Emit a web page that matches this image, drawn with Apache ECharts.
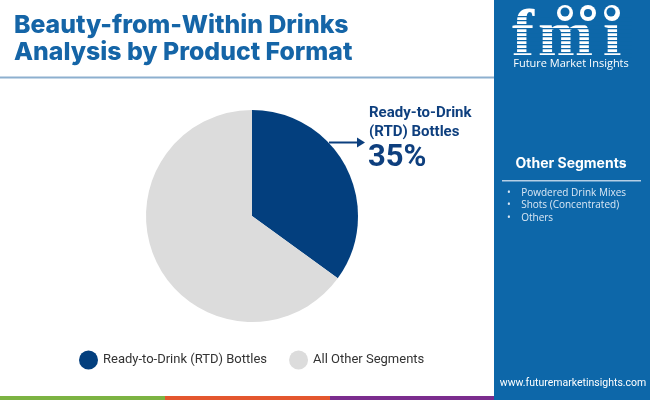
<!DOCTYPE html>
<html lang="en">
<head>
<meta charset="UTF-8">
<title>Beauty-from-Within Drinks Analysis by Product Format</title>
<script src="https://cdn.jsdelivr.net/npm/echarts@6/dist/echarts.min.js"></script>
<style>
  html, body { margin: 0; padding: 0; background: #fff; }
  #box { width: 650px; height: 400px; }
</style>
</head>
<body>
<div id="box"></div>
<script>
    // data
    var segments = ['Ready-to-Drink (RTD) Bottles', 'All Other Segments'];
    var shares = [35, 65];
    var colors = ['#033f7e', '#dcdcdc'];
    var otherSegments = ['Powdered Drink Mixes', 'Shots (Concentrated)', 'Others'];
    var titleLines = ['Beauty-from-Within Drinks', 'Analysis by Product Format'];

    var panel = '#0d67a9';
    var myChart = echarts.init(document.getElementById('box'), null, {renderer: 'canvas'});

    var pieData = segments.map(function (name, i) {
        return {name: name, value: shares[i], itemStyle: {color: colors[i]}};
    });

    // logo stripes over the fmi letters
    var stripes = [];
    for (var y = 16; y < 58; y += 4) {
        stripes.push({type: 'rect', shape: {x: 510, y: y, width: 122, height: 1.3},
            style: {fill: panel}, z: 20});
    }

    var bullets = otherSegments.map(function (s, i) {
        return {
            type: 'text', z: 20,
            style: {
                x: 507, y: 193 + i * 12.5, text: '\u2022    ' + s,
                fill: '#dbe8f5', font: '10px "Open Sans"', verticalAlign: 'middle'
            }
        };
    });

    var logoFont = 'bold 66px "Liberation Serif"';

    var option = {
        backgroundColor: '#ffffff',
        animation: false,
        title: [{
            text: titleLines.join('\n'),
            left: 9, top: 7,
            textStyle: {
                color: '#1565a7', fontSize: 24.8, fontWeight: 800,
                fontFamily: 'Inter', lineHeight: 27
            }
        }],
        legend: {
            data: segments,
            top: 345.5, left: 74,
            icon: 'circle', itemWidth: 19, itemHeight: 19, itemGap: 22,
            textStyle: {fontSize: 13, color: '#333', fontFamily: 'Roboto'}
        },
        series: [{
            name: 'Product Format',
            type: 'pie',
            center: [252, 216],
            radius: [0, 106],
            startAngle: 90,
            clockwise: true,
            label: {show: false},
            labelLine: {show: false},
            silent: true,
            data: pieData
        }],
        graphic: [
            // title underline
            {type: 'rect', shape: {x: 0, y: 76.5, width: 494, height: 2}, style: {fill: '#8db0cf'}},
            // right panel
            {type: 'rect', shape: {x: 494, y: 0, width: 156, height: 400}, style: {fill: panel}, z: 5},
            // bottom stripes
            {type: 'rect', shape: {x: 0, y: 396, width: 165, height: 4}, style: {fill: '#7cb342'}},
            {type: 'rect', shape: {x: 165, y: 396, width: 165, height: 4}, style: {fill: '#e4572e'}},
            {type: 'rect', shape: {x: 330, y: 396, width: 164, height: 4}, style: {fill: '#7b2d8e'}},
            // logo
            {type: 'text', z: 10, style: {x: 512, y: 38, text: 'f', fill: '#fff',
                font: logoFont, verticalAlign: 'middle'}},
            {type: 'text', z: 10, style: {x: 538, y: 38, text: 'm', fill: '#fff',
                font: logoFont, verticalAlign: 'middle'}},
            {type: 'text', z: 10, style: {x: 603, y: 38, text: '\u0131', fill: '#fff',
                font: logoFont, verticalAlign: 'middle'}},
            {type: 'circle', z: 25, shape: {cx: 565, cy: 13, r: 8}, style: {fill: '#fff'}},
            {type: 'circle', z: 25, shape: {cx: 588, cy: 13, r: 8}, style: {fill: '#fff'}},
            {type: 'circle', z: 25, shape: {cx: 612, cy: 13, r: 8}, style: {fill: '#fff'}},
            {type: 'circle', z: 26, shape: {cx: 565, cy: 12, r: 4.5}, style: {fill: panel}},
            {type: 'circle', z: 26, shape: {cx: 588, cy: 13, r: 4}, style: {fill: panel}},
            {type: 'circle', z: 26, shape: {cx: 611, cy: 12, r: 4.5}, style: {fill: panel}}
        ].concat(stripes).concat([
            {type: 'text', z: 20, style: {x: 571, y: 64, text: 'Future Market Insights', fill: '#fff',
                font: '11px "Open Sans"', align: 'center', verticalAlign: 'middle'}},
            // other segments box
            {type: 'text', z: 20, style: {x: 571, y: 164, text: 'Other Segments', fill: '#fff',
                font: 'bold 14px Inter', align: 'center', verticalAlign: 'middle'}},
            {type: 'rect', z: 20, shape: {x: 502, y: 180, width: 139, height: 1.5}, style: {fill: '#b5cfe6'}}
        ]).concat(bullets).concat([
            {type: 'text', z: 20, style: {x: 573, y: 383, text: 'www.futuremarketinsights.com', fill: '#fff',
                font: '10.5px Roboto', align: 'center', verticalAlign: 'middle'}},
            // callout for RTD share
            {type: 'line', z: 10, shape: {x1: 329, y1: 142.5, x2: 358, y2: 142.5},
                style: {stroke: '#0b3f7e', lineWidth: 2}},
            {type: 'polygon', z: 10, shape: {points: [[357, 137.5], [365, 142.5], [357, 147.5]]},
                style: {fill: '#0b3f7e'}},
            {type: 'text', z: 10, style: {x: 369, y: 113, text: 'Ready-to-Drink', fill: '#0e3f7e',
                font: 'bold 15px Roboto', verticalAlign: 'middle'}},
            {type: 'text', z: 10, style: {x: 369, y: 132, text: '(RTD) Bottles', fill: '#0e3f7e',
                font: 'bold 15px Roboto', verticalAlign: 'middle'}},
            {type: 'text', z: 10, style: {x: 368, y: 158, text: shares[0] + '%', fill: '#0e3f7e',
                font: 'bold 31px Roboto', verticalAlign: 'middle'}}
        ])
    };
    myChart.setOption(option);
</script>
</body>
</html>
